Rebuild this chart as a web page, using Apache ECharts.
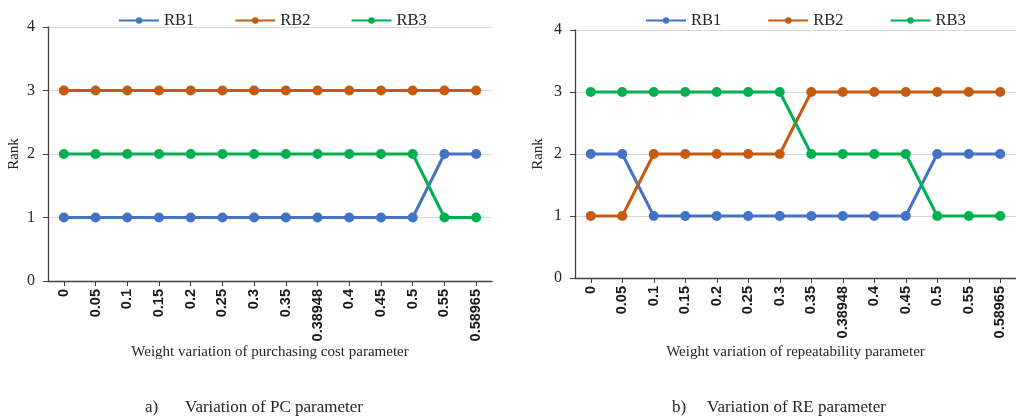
<!DOCTYPE html>
<html>
<head>
<meta charset="utf-8">
<script src="https://cdn.jsdelivr.net/npm/echarts@6/dist/echarts.min.js"></script>
<style>
html,body{margin:0;padding:0;background:#fff;}
#chart{width:1016px;height:418px;}
</style>
</head>
<body>
<div id="chart"></div>
<script>
// ---- data ----
const categories = ['0','0.05','0.1','0.15','0.2','0.25','0.3','0.35','0.38948','0.4','0.45','0.5','0.55','0.58965'];
const seriesNames = ['RB1','RB2','RB3'];
const yTicks = [0,1,2,3,4];
// a) Variation of PC parameter
const pcRB1 = [1,1,1,1,1,1,1,1,1,1,1,1,2,2];
const pcRB2 = [3,3,3,3,3,3,3,3,3,3,3,3,3,3];
const pcRB3 = [2,2,2,2,2,2,2,2,2,2,2,2,1,1];
// b) Variation of RE parameter
const reRB1 = [2,2,1,1,1,1,1,1,1,1,1,2,2,2];
const reRB2 = [1,1,2,2,2,2,2,3,3,3,3,3,3,3];
const reRB3 = [3,3,3,3,3,3,3,2,2,2,2,1,1,1];
const xTitles = ['Weight variation of purchasing cost parameter','Weight variation of repeatability parameter'];
const captionLetters = ['a)','b)'];
const captionTexts = ['Variation of PC parameter','Variation of RE parameter'];
const yTitle = 'Rank';

// ---- styling ----
const colors = ['#4472C4','#C55A11','#00B050'];
const serif = '"Liberation Serif", "Times New Roman", serif';
const textColor = '#262626';
const axisColor = '#404040';

function makeX(idx, gap){
  return {
    type:'category', gridIndex:idx, data:categories, boundaryGap:true,
    axisLine:{show:true,lineStyle:{color:axisColor,width:1.3}},
    axisTick:{show:true,alignWithLabel:true,length:5,lineStyle:{color:axisColor}},
    axisLabel:{rotate:90,margin:8,interval:0,fontFamily:'"Liberation Sans", Arial, sans-serif',fontWeight:'bold',fontSize:14.5,color:'#1a1a1a'},
    name:xTitles[idx], nameLocation:'middle', nameGap:gap, nameMoveOverlap:false,
    nameTextStyle:{fontFamily:serif,fontSize:15,color:textColor},
    splitLine:{show:false}
  };
}
function makeY(idx, gap){
  return {
    type:'value', gridIndex:idx, min:yTicks[0], max:yTicks[yTicks.length-1], interval:1,
    axisLine:{show:true,lineStyle:{color:axisColor,width:1.3}},
    axisTick:{show:true,length:5,lineStyle:{color:axisColor}},
    axisLabel:{margin:13,fontFamily:serif,fontSize:16,color:textColor},
    splitLine:{show:true,lineStyle:{color:'#D9D9D9',width:1}},
    name:yTitle, nameLocation:'middle', nameGap:gap, nameRotate:90, nameMoveOverlap:false,
    nameTextStyle:{fontFamily:serif,fontSize:15,color:textColor}
  };
}
function makeSeries(data, i, g){
  return {
    type:'line', name:seriesNames[i], data:data, xAxisIndex:g, yAxisIndex:g,
    symbol:'circle', symbolSize:10, showSymbol:true,
    lineStyle:{width:3,color:colors[i]}, itemStyle:{color:colors[i]},
    emphasis:{disabled:true}, animation:false
  };
}
function legend(left, gap){
  return {
    data:seriesNames, left:left, top:7, itemWidth:40, itemHeight:8, itemGap:gap,
    textStyle:{fontFamily:serif,fontSize:16.5,color:textColor}
  };
}

const chart = echarts.init(document.getElementById('chart'), null, {renderer:'canvas'});
chart.setOption({
  animation:false,
  color:colors,
  legend:[legend(113,40), legend(640,46)],
  grid:[
    {left:48, top:27, width:444, height:254, containLabel:false},
    {left:575, top:30, width:444, height:248, containLabel:false}
  ],
  xAxis:[makeX(0,64), makeX(1,67)],
  yAxis:[makeY(0,26), makeY(1,29)],
  series:[
    makeSeries(pcRB1,0,0), makeSeries(pcRB2,1,0), makeSeries(pcRB3,2,0),
    makeSeries(reRB1,0,1), makeSeries(reRB2,1,1), makeSeries(reRB3,2,1)
  ],
  graphic:[
    {type:'text', left:145, top:399, style:{text:captionLetters[0], font:'17px '+serif, fill:textColor}},
    {type:'text', left:185, top:399, style:{text:captionTexts[0], font:'17px '+serif, fill:textColor}},
    {type:'text', left:672, top:399, style:{text:captionLetters[1], font:'17px '+serif, fill:textColor}},
    {type:'text', left:707, top:399, style:{text:captionTexts[1], font:'17px '+serif, fill:textColor}}
  ]
});
</script>
</body>
</html>
